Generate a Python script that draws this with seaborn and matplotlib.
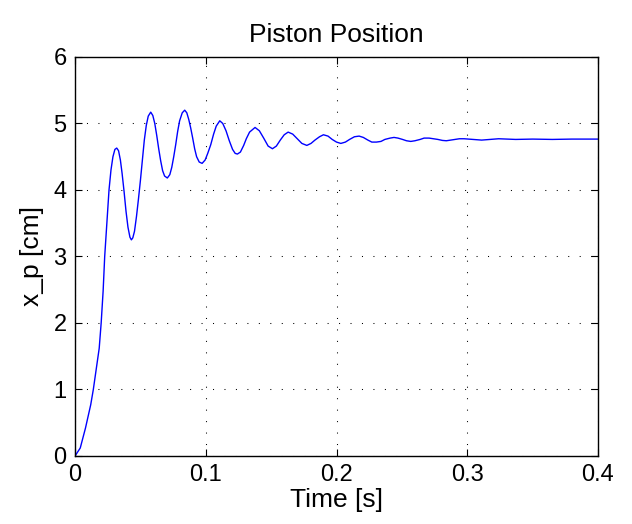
import pandas as pd
import seaborn as sns
import matplotlib.pyplot as plt

# piston position
time_s = [
    0.000, 0.004, 0.008, 0.012, 0.014, 0.017, 0.0185, 0.020, 0.0215, 0.0227,
    0.0245, 0.026, 0.0275, 0.029, 0.0305, 0.0319, 0.0333, 0.0347, 0.036, 0.0375,
    0.039, 0.0405, 0.042, 0.0431, 0.0442, 0.0455, 0.047, 0.0485, 0.050, 0.0515,
    0.053, 0.0545, 0.056, 0.0579, 0.0595, 0.061, 0.0625, 0.064, 0.0655, 0.067,
    0.0685, 0.0706, 0.0725, 0.074, 0.0755, 0.077, 0.0785, 0.080, 0.082, 0.0839,
    0.0855, 0.087, 0.0885, 0.090, 0.0915, 0.093, 0.095, 0.0972, 0.0995, 0.1015,
    0.1038, 0.106, 0.108, 0.1107, 0.113, 0.1155, 0.118, 0.1205, 0.1225, 0.1242,
    0.1265, 0.129, 0.131, 0.1335, 0.1377, 0.141, 0.1443, 0.1477, 0.151, 0.154,
    0.157, 0.160, 0.163, 0.1665, 0.170, 0.1735, 0.1773, 0.1805, 0.1835, 0.187,
    0.190, 0.1935, 0.1967, 0.200, 0.2033, 0.2068, 0.210, 0.2137, 0.2173, 0.2205,
    0.224, 0.227, 0.2305, 0.234, 0.237, 0.241, 0.244, 0.247, 0.2505, 0.2535,
    0.2568, 0.260, 0.264, 0.267, 0.2708, 0.274, 0.2775, 0.281, 0.284, 0.2875,
    0.291, 0.294, 0.2976, 0.301, 0.304, 0.3075, 0.311, 0.3145, 0.318, 0.321,
    0.324, 0.330, 0.337, 0.350, 0.365, 0.380, 0.400,
]
x_p_cm = [
    0.00, 0.12, 0.42, 0.77, 1.00, 1.42, 1.62, 2.00, 2.48, 3.00,
    3.55, 4.00, 4.30, 4.50, 4.61, 4.63, 4.59, 4.45, 4.25, 3.98,
    3.68, 3.44, 3.29, 3.25, 3.28, 3.38, 3.60, 3.86, 4.14, 4.45,
    4.75, 4.97, 5.11, 5.17, 5.12, 5.00, 4.82, 4.62, 4.44, 4.29,
    4.21, 4.18, 4.23, 4.34, 4.50, 4.68, 4.88, 5.04, 5.16, 5.20,
    5.16, 5.06, 4.93, 4.78, 4.62, 4.50, 4.42, 4.40, 4.45, 4.55,
    4.68, 4.84, 4.96, 5.04, 5.00, 4.89, 4.74, 4.61, 4.55, 4.54,
    4.57, 4.67, 4.77, 4.87, 4.94, 4.89, 4.78, 4.66, 4.62, 4.66,
    4.75, 4.83, 4.87, 4.84, 4.77, 4.70, 4.67, 4.70, 4.75, 4.80,
    4.83, 4.81, 4.76, 4.72, 4.70, 4.72, 4.76, 4.80, 4.81, 4.79,
    4.75, 4.72, 4.72, 4.73, 4.76, 4.78, 4.79, 4.78, 4.76, 4.74,
    4.73, 4.74, 4.76, 4.78, 4.78, 4.77, 4.76, 4.745, 4.74, 4.75,
    4.76, 4.77, 4.77, 4.765, 4.76, 4.755, 4.75, 4.755, 4.76, 4.765,
    4.77, 4.765, 4.76, 4.765, 4.76, 4.765, 4.765,
]

x_ticks = [0, 0.1, 0.2, 0.3, 0.4]
x_tick_labels = ["0", "0.1", "0.2", "0.3", "0.4"]
y_ticks = [0, 1, 2, 3, 4, 5, 6]

sns.set_theme(style="white")
plt.rcParams["font.family"] = ["Liberation Sans", "DejaVu Sans"]
plt.rcParams["text.color"] = "black"
plt.rcParams["axes.labelcolor"] = "black"

df = pd.DataFrame({"t": time_s, "x": x_p_cm})

fig = plt.figure(figsize=(6.32, 5.24), dpi=100)
ax = fig.add_axes([0.1187, 0.1298, 0.8275, 0.7615])

sns.lineplot(data=df, x="t", y="x", ax=ax, color="#0000ff", linewidth=1.0,
             estimator=None, sort=False)

ax.set_xlim(0, 0.4)
ax.set_ylim(0, 6)
ax.set_xticks(x_ticks)
ax.set_xticklabels(x_tick_labels)
ax.set_yticks(y_ticks)

# MATLAB look: dotted grid, inward ticks on all sides, boxed axes
ax.grid(True, color="black", linestyle=(0, (1, 10)), linewidth=0.75)
for side in ["top", "right", "bottom", "left"]:
    ax.spines[side].set_visible(True)
    ax.spines[side].set_color("black")
    ax.spines[side].set_linewidth(1.0)
ax.tick_params(direction="in", length=5, width=0.8, colors="black",
               labelsize=17, top=True, right=True, bottom=True, left=True, pad=6)

ax.set_title("Piston Position", fontsize=19, pad=11, color="black")
ax.set_xlabel("Time [s]", fontsize=19, labelpad=1)
ax.set_ylabel("x_p [cm]", fontsize=19, labelpad=7)

fig.savefig("out.png", dpi=100, facecolor="white")
